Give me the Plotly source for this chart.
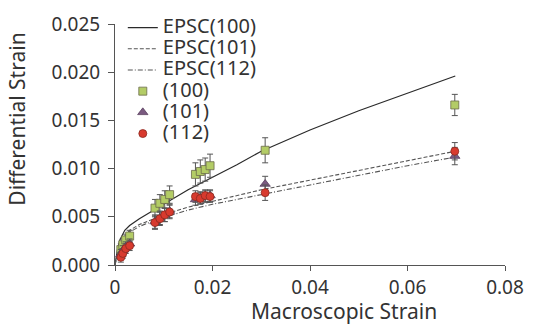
import plotly.graph_objects as go

# EPSC model curves
epsc_x = [0, 0.0005, 0.001, 0.002, 0.003, 0.005, 0.008, 0.011, 0.015, 0.02, 0.025, 0.03, 0.04, 0.05, 0.06, 0.0698]
epsc100 = [0, 0.0016, 0.0026, 0.0036, 0.0041, 0.0048, 0.0057, 0.0066, 0.0078, 0.0091, 0.0104, 0.0118, 0.0140, 0.0160, 0.0178, 0.0196]
epsc101 = [0, 0.0012, 0.0020, 0.0030, 0.0036, 0.0042, 0.0048, 0.0054, 0.0060, 0.0066, 0.0072, 0.0078, 0.0088, 0.0098, 0.0108, 0.0118]
epsc112 = [0, 0.0011, 0.0018, 0.0028, 0.0034, 0.0040, 0.0046, 0.0051, 0.0057, 0.0063, 0.0068, 0.0073, 0.0083, 0.0093, 0.0103, 0.0112]

# Measured data
meas_x = [0.0012, 0.0016, 0.0022, 0.0030, 0.0082, 0.0092, 0.0102, 0.0112,
          0.0165, 0.0175, 0.0185, 0.0195, 0.0308, 0.0697]
d100 = [0.0016, 0.0021, 0.0026, 0.0030, 0.0059, 0.0064, 0.0068, 0.0073,
        0.0094, 0.0097, 0.0099, 0.0103, 0.0119, 0.0166]
e100 = [0.0006, 0.0006, 0.0006, 0.0006, 0.0009, 0.0009, 0.0009, 0.0009,
        0.0012, 0.0012, 0.0012, 0.0012, 0.0013, 0.0011]
d101 = [0.0011, 0.0015, 0.0019, 0.0022, 0.0045, 0.0049, 0.0052, 0.0056,
        0.0068, 0.0070, 0.0071, 0.0072, 0.0084, 0.0113]
e101 = [0.0005, 0.0005, 0.0005, 0.0005, 0.0007, 0.0007, 0.0007, 0.0007,
        0.0006, 0.0006, 0.0006, 0.0006, 0.0008, 0.0009]
d112 = [0.0008, 0.0012, 0.0017, 0.0020, 0.0044, 0.0048, 0.0052, 0.0055,
        0.0071, 0.0069, 0.0072, 0.0071, 0.0075, 0.0118]
e112 = [0.0005, 0.0005, 0.0005, 0.0005, 0.0007, 0.0007, 0.0007, 0.0007,
        0.0006, 0.0006, 0.0006, 0.0006, 0.0008, 0.0009]

series_names = ["EPSC(100)", "EPSC(101)", "EPSC(112)", "(100)", "(101)", "(112)"]

x_ticks = [0, 0.02, 0.04, 0.06, 0.08]
x_ticklabels = ["0", "0.02", "0.04", "0.06", "0.08"]
y_ticks = [0, 0.005, 0.010, 0.015, 0.020, 0.025]
y_ticklabels = ["0.000", "0.005", "0.010", "0.015", "0.020", "0.025"]

FONT = "Noto Sans"
TXT = "#333333"


def lg(name):
    return '<span style="font-size:20px">' + name + "</span>"


fig = go.Figure()

fig.add_trace(go.Scatter(x=epsc_x, y=epsc100, mode="lines", name=lg(series_names[0]),
                         line=dict(color="#2a2a2a", width=1.2, dash="solid")))
fig.add_trace(go.Scatter(x=epsc_x, y=epsc101, mode="lines", name=lg(series_names[1]),
                         line=dict(color="#555555", width=1.1, dash="4px,2px")))
fig.add_trace(go.Scatter(x=epsc_x, y=epsc112, mode="lines", name=lg(series_names[2]),
                         line=dict(color="#555555", width=1.1, dash="5px,2px,1px,2px")))

err_style = dict(type="data", thickness=1, width=3, color="#555555")
fig.add_trace(go.Scatter(x=meas_x, y=d100, mode="markers", name=lg(series_names[3]),
                         error_y=dict(array=e100, **err_style),
                         marker=dict(symbol="square", size=8, color="#b3cc66",
                                     line=dict(color="#6b6b4a", width=0.8))))
fig.add_trace(go.Scatter(x=meas_x, y=d101, mode="markers", name=lg(series_names[4]),
                         error_y=dict(array=e101, **err_style),
                         marker=dict(symbol="triangle-up", size=9, color="#7a5a80",
                                     line=dict(color="#5a4060", width=0.8))))
fig.add_trace(go.Scatter(x=meas_x, y=d112, mode="markers", name=lg(series_names[5]),
                         error_y=dict(array=e112, **err_style),
                         marker=dict(symbol="circle", size=8, color="#d83a2e",
                                     line=dict(color="#8a2a20", width=0.8))))

fig.update_layout(
    width=535, height=324,
    margin=dict(l=115, r=30, t=17, b=59),
    paper_bgcolor="white", plot_bgcolor="white",
    font=dict(family=FONT, size=18, color=TXT),
    hovermode=False,
    showlegend=True,
    legend=dict(x=0.02, y=1.05, xanchor="left", yanchor="top",
                bgcolor="rgba(0,0,0,0)", font=dict(size=14, family=FONT, color=TXT),
                tracegroupgap=0, itemwidth=30),
    xaxis=dict(range=[0, 0.08], tickvals=x_ticks, ticktext=x_ticklabels,
               showgrid=False, zeroline=False, showline=True, linecolor="#555555",
               linewidth=1, ticks="outside", ticklen=5, tickcolor="#555555",
               tickfont=dict(size=19, family=FONT, color=TXT)),
    yaxis=dict(range=[0, 0.025], tickvals=y_ticks, ticktext=y_ticklabels,
               showgrid=False, zeroline=False, showline=True, linecolor="#555555",
               linewidth=1, ticks="outside", ticklen=6, tickcolor="#555555",
               ticklabelstandoff=4,
               tickfont=dict(size=19, family=FONT, color=TXT)),
    annotations=[
        dict(text="Macroscopic Strain", xref="paper", yref="paper", x=0.587, y=-0.19,
             xanchor="center", yanchor="middle", showarrow=False,
             font=dict(size=21, family=FONT, color=TXT)),
        dict(text="Differential Strain", xref="paper", yref="paper", x=-0.25, y=0.605,
             xanchor="center", yanchor="middle", showarrow=False, textangle=-90,
             font=dict(size=21, family=FONT, color=TXT)),
    ],
)

fig.write_html("out.html")
